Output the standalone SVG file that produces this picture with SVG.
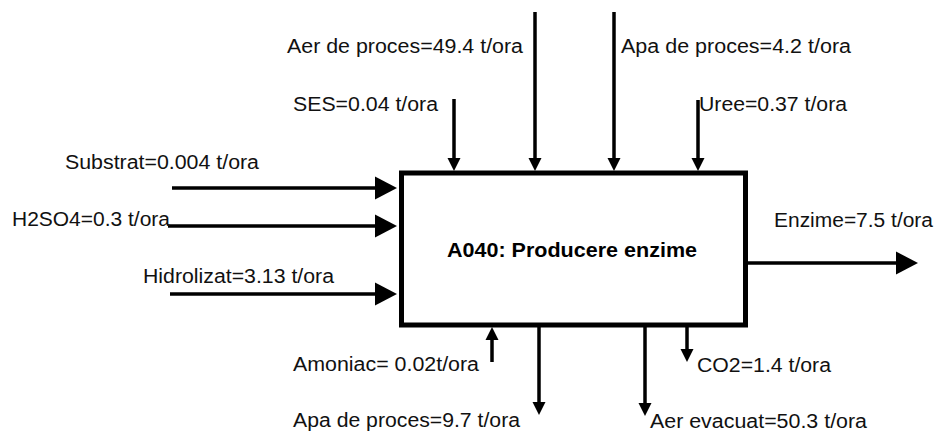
<svg xmlns="http://www.w3.org/2000/svg" width="939" height="432" viewBox="0 0 939 432">
  <style>
    .lbl { font-family: "Liberation Sans", Arial, sans-serif; font-size: 20px; fill: #111; }
    .title { font-family: "Liberation Sans", Arial, sans-serif; font-size: 20px; font-weight: bold; fill: #000; }
    .flow { stroke: #000; stroke-width: 3.5; fill: none; }
    .big { marker-end: url(#headBig); }
    .small { marker-end: url(#headSmall); }
  </style>
  <defs>
    <marker id="headBig" markerUnits="userSpaceOnUse" markerWidth="23" markerHeight="24" refX="0" refY="11.5" orient="auto" overflow="visible">
      <path d="M0,0 L22,11.5 L0,23 Z" fill="#000"/>
    </marker>
    <marker id="headSmall" markerUnits="userSpaceOnUse" markerWidth="14" markerHeight="13" refX="0" refY="6.5" orient="auto" overflow="visible">
      <path d="M0,0 L13,6.5 L0,13 Z" fill="#000"/>
    </marker>
  </defs>
  <rect width="939" height="432" fill="#fff"/>

  <!-- activity box -->
  <g id="A040">
    <rect x="401.5" y="173" width="344" height="152" fill="#fff" stroke="#000" stroke-width="5"/>
    <text class="title" x="447" y="257" textLength="250" lengthAdjust="spacingAndGlyphs">A040: Producere enzime</text>
  </g>

  <!-- inputs, outputs and controls -->
  <g id="connectors">
    <line class="flow big" x1="172" y1="188" x2="375" y2="188"/>
    <line class="flow big" x1="168" y1="226" x2="375" y2="226"/>
    <line class="flow big" x1="170" y1="294" x2="375" y2="294"/>
    <line class="flow big" x1="748" y1="263" x2="896" y2="263"/>
    <line class="flow small" x1="535" y1="12" x2="535" y2="158"/>
    <line class="flow small" x1="454" y1="99" x2="454" y2="158"/>
    <line class="flow small" x1="614" y1="12" x2="614" y2="158"/>
    <line class="flow small" x1="698" y1="100" x2="698" y2="158"/>
    <line class="flow small" x1="492" y1="362" x2="492" y2="340"/>
    <line class="flow small" x1="539" y1="327" x2="539" y2="402"/>
    <line class="flow small" x1="687" y1="327" x2="687" y2="349"/>
    <line class="flow small" x1="645" y1="327" x2="645" y2="403"/>
  </g>

  <g id="labels">
    <text class="lbl" x="65" y="169" textLength="194" lengthAdjust="spacingAndGlyphs">Substrat=0.004 t/ora</text>
    <text class="lbl" x="12" y="226" textLength="158" lengthAdjust="spacingAndGlyphs">H2SO4=0.3 t/ora</text>
    <text class="lbl" x="143" y="283" textLength="191" lengthAdjust="spacingAndGlyphs">Hidrolizat=3.13 t/ora</text>
    <text class="lbl" x="287" y="53" textLength="236" lengthAdjust="spacingAndGlyphs">Aer de proces=49.4 t/ora</text>
    <text class="lbl" x="293" y="111" textLength="145" lengthAdjust="spacingAndGlyphs">SES=0.04 t/ora</text>
    <text class="lbl" x="621" y="53" textLength="230" lengthAdjust="spacingAndGlyphs">Apa de proces=4.2 t/ora</text>
    <text class="lbl" x="699" y="111" textLength="148" lengthAdjust="spacingAndGlyphs">Uree=0.37 t/ora</text>
    <text class="lbl" x="774" y="227" textLength="159" lengthAdjust="spacingAndGlyphs">Enzime=7.5 t/ora</text>
    <text class="lbl" x="293" y="371" textLength="186" lengthAdjust="spacingAndGlyphs">Amoniac= 0.02t/ora</text>
    <text class="lbl" x="293" y="427" textLength="227" lengthAdjust="spacingAndGlyphs">Apa de proces=9.7 t/ora</text>
    <text class="lbl" x="697" y="372" textLength="134" lengthAdjust="spacingAndGlyphs">CO2=1.4 t/ora</text>
    <text class="lbl" x="650" y="428" textLength="217" lengthAdjust="spacingAndGlyphs">Aer evacuat=50.3 t/ora</text>
  </g>
</svg>
